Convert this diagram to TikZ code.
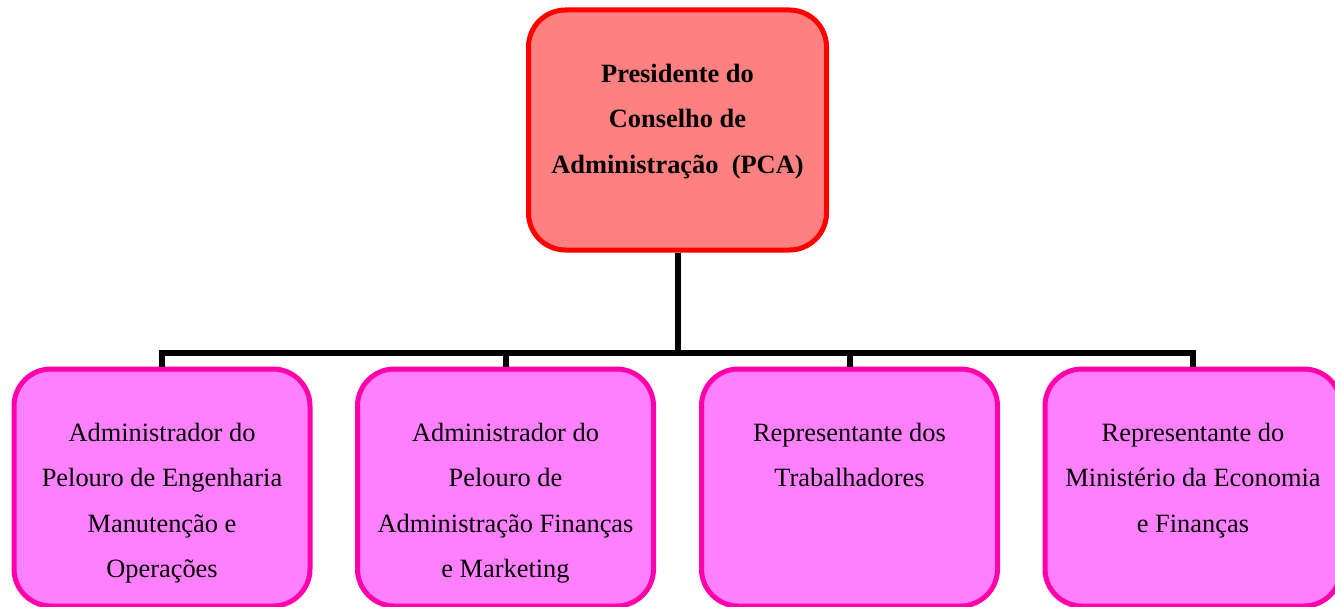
\documentclass[tikz,border=0pt]{standalone}
\usepackage{fontspec}
\setmainfont{Liberation Serif}
\usepackage{xcolor}
\definecolor{pcafill}{HTML}{FF8080}
\definecolor{pcaline}{HTML}{FF0000}
\definecolor{admfill}{HTML}{FF80FF}
\definecolor{admline}{HTML}{FF00AA}
\newcommand{\boxtext}[3]{\parbox[c][#1][t]{#2}{\centering\rule{0pt}{72pt}#3}}

\begin{document}
\begin{tikzpicture}[x=1pt, y=-1pt,
    orgbox/.style={draw, line width=5pt, rounded corners=37pt, inner sep=0pt, font=\fontsize{26.4}{45.5}\selectfont},
    pcabox/.style={orgbox, draw=pcaline, fill=pcafill},
    admbox/.style={orgbox, draw=admline, fill=admfill},
    link/.style={draw=black, line width=6pt}]
    \useasboundingbox (0,0) rectangle (1335,607);
    \node[pcabox] (pca) at (677.5,130) {\boxtext{240pt}{298pt}{\bfseries Presidente do\\ Conselho de\\ Administração~~(PCA)}};
    \node[admbox] (adm1) at (162,487.5) {\boxtext{237pt}{296pt}{Administrador do\\ Pelouro de Engenharia\\ Manutenção e\\ Operações}};
    \node[admbox] (adm2) at (505.5,487.5) {\boxtext{237pt}{296pt}{Administrador do\\ Pelouro de\\ Administração Finanças\\ e Marketing}};
    \node[admbox] (adm3) at (849.5,487.5) {\boxtext{237pt}{296pt}{Representante dos\\ Trabalhadores}};
    \node[admbox] (adm4) at (1193,487.5) {\boxtext{237pt}{296pt}{Representante do\\ Ministério da Economia\\ e Finanças}};
    \coordinate (bus) at (677.5,353);
    \draw[link] (pca.south) -- (bus);
    \draw[link] (adm1.north) |- (bus) -| (adm4.north);
    \draw[link] (adm2.north) -- (adm2.north |- bus);
    \draw[link] (adm3.north) -- (adm3.north |- bus);
\end{tikzpicture}
\end{document}
